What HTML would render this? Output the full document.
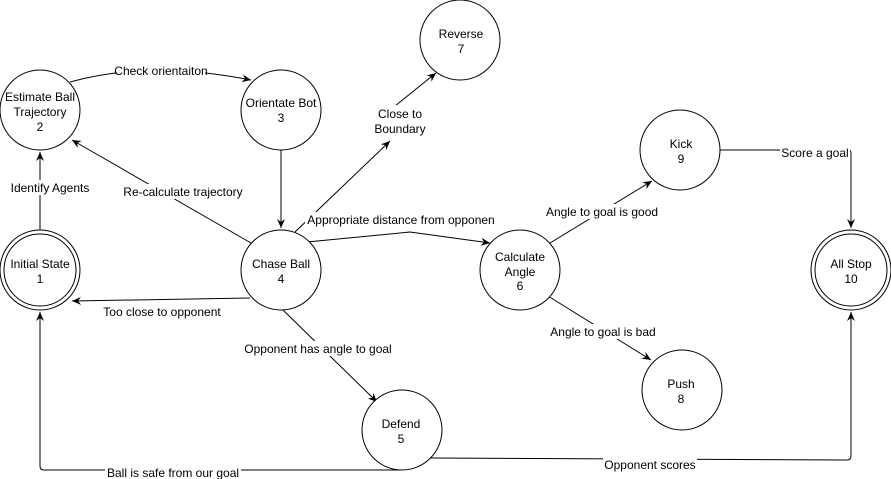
<!DOCTYPE html>
<html><head><meta charset="utf-8"><style>
html,body{margin:0;padding:0;background:#fff;width:891px;height:479px;overflow:hidden}
svg text{font-family:"Liberation Sans",Arial,sans-serif;font-size:12px;fill:#000}
</style></head><body>
<svg width="891" height="479" viewBox="0 0 891 479" xmlns="http://www.w3.org/2000/svg">
<defs>
<marker id="a" markerWidth="10" markerHeight="10" refX="9" refY="5" orient="auto" markerUnits="userSpaceOnUse">
<path d="M0,1 L9,5 L0,9 L3,5 Z" fill="#000"/></marker>
</defs>
<g fill="none" stroke="#000" stroke-width="1">
<path d="M40,230 L40,152" marker-end="url(#a)"/>
<path d="M70,82 Q150,60 251,80" marker-end="url(#a)"/>
<path d="M281,150 L281,228" marker-end="url(#a)"/>
<path d="M251,243 L72,140" marker-end="url(#a)"/>
<path d="M295,232 L390,141" marker-end="url(#a)"/>
<path d="M390,110 L436,73" marker-end="url(#a)"/>
<path d="M307,242 L410,232 L490,243" marker-end="url(#a)"/>
<path d="M250,298 L72,301" marker-end="url(#a)"/>
<path d="M283,310 L377,402" marker-end="url(#a)"/>
<path d="M550,243 L652,181" marker-end="url(#a)"/>
<path d="M548,296 L651,360" marker-end="url(#a)"/>
<path d="M720,150 L848,150 Q851,150 851,153 L851,228" marker-end="url(#a)"/>
<path d="M400,470 L44,470 Q40,470 40,466 L40,312" marker-end="url(#a)"/>
<path d="M431,458 L847,460 Q851,460 851,456 L851,312" marker-end="url(#a)"/>
<circle cx="40" cy="110" r="40" fill="#fff"/>
<circle cx="281" cy="110" r="40" fill="#fff"/>
<circle cx="460" cy="40" r="40" fill="#fff"/>
<circle cx="40" cy="270" r="40" fill="#fff"/><circle cx="40" cy="270" r="36"/>
<circle cx="281" cy="270" r="40" fill="#fff"/>
<circle cx="520" cy="270" r="40" fill="#fff"/>
<circle cx="680" cy="150" r="40" fill="#fff"/>
<circle cx="682" cy="390" r="40" fill="#fff"/>
<circle cx="402" cy="430" r="40" fill="#fff"/>
<circle cx="851" cy="270" r="40" fill="#fff"/><circle cx="851" cy="270" r="36"/>
</g>
<g fill="#fff">
<rect x="117" y="64" width="88" height="14"/>
<rect x="9" y="180" width="84" height="15"/>
<rect x="121" y="184" width="124" height="15"/>
<rect x="373" y="105" width="56" height="30"/>
<rect x="305" y="212" width="192" height="15"/>
<rect x="101" y="304" width="122" height="15"/>
<rect x="243" y="341" width="150" height="15"/>
<rect x="544" y="204" width="116" height="15"/>
<rect x="548" y="324" width="110" height="15"/>
<rect x="780" y="145" width="70" height="15"/>
<rect x="105" y="463" width="136" height="16"/>
<rect x="603" y="451" width="94" height="16"/>
</g>
<g text-anchor="middle">
<text x="40" y="101">Estimate Ball</text><text x="40" y="116">Trajectory</text><text x="40" y="131">2</text>
<text x="281" y="107">Orientate Bot</text><text x="281" y="122">3</text>
<text x="461" y="38">Reverse</text><text x="461" y="53">7</text>
<text x="40" y="268">Initial State</text><text x="40" y="283">1</text>
<text x="281" y="268">Chase Ball</text><text x="281" y="283">4</text>
<text x="520" y="261">Calculate</text><text x="520" y="276">Angle</text><text x="520" y="290">6</text>
<text x="681" y="148">Kick</text><text x="681" y="163">9</text>
<text x="681" y="388">Push</text><text x="681" y="403">8</text>
<text x="401" y="428">Defend</text><text x="401" y="443">5</text>
<text x="851" y="268">All Stop</text><text x="851" y="283">10</text>
<text x="161" y="75" font-size="11">Check orientaiton</text>
<text x="50" y="192">Identify Agents</text>
<text x="183" y="196">Re-calculate trajectory</text>
<text x="400" y="118">Close to</text><text x="400" y="133">Boundary</text>
<text x="401" y="224">Appropriate distance from opponen</text>
<text x="162" y="316">Too close to opponent</text>
<text x="318" y="353">Opponent has angle to goal</text>
<text x="602" y="216">Angle to goal is good</text>
<text x="603" y="336">Angle to goal is bad</text>
<text x="815" y="157">Score a goal</text>
<text x="173" y="477">Ball is safe from our goal</text>
<text x="650" y="469">Opponent scores</text>
</g>
</svg>
</body></html>
